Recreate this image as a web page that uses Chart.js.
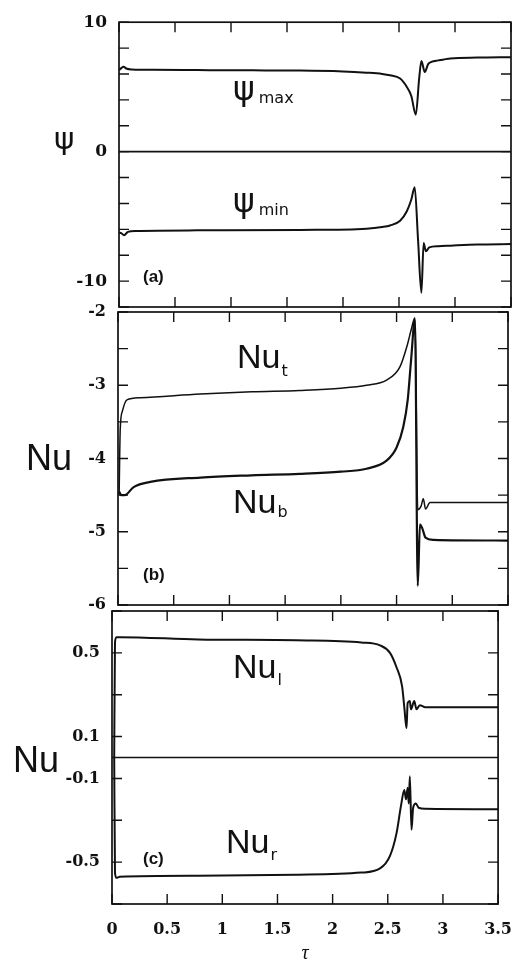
<!DOCTYPE html>
<html>
<head>
<meta charset="utf-8">
<title>psi and Nu against tau</title>
<script src="https://cdn.jsdelivr.net/npm/chart.js@4.4.1/dist/chart.umd.min.js"></script>
<style>
  body { margin: 0; background: #fff; }
  #wrap { position: relative; width: 528px; height: 962px; }
  #wrap canvas { position: absolute; left: 0; top: 0; }
</style>
</head>
<body>
<div id="wrap">
  <canvas id="panel-a" width="528" height="962"></canvas>
  <canvas id="panel-b" width="528" height="962"></canvas>
  <canvas id="panel-c" width="528" height="962"></canvas>
</div>
<script>
// shared time axis
const tauTicks = [0, 0.5, 1, 1.5, 2, 2.5, 3, 3.5];

// (a) stream function extremes
const psiTicks = [-12, -10, -8, -6, -4, -2, 0, 2, 4, 6, 8, 10];
const psiLabels = [-10, 0, 10];
const psiMaxTau = [0, 0.02, 0.04, 0.07, 0.12, 0.3, 0.7, 1.2, 1.62, 2.0, 2.21, 2.35, 2.42, 2.51, 2.57, 2.61, 2.65, 2.68, 2.70, 2.73, 2.76, 2.79, 2.85, 2.96, 3.2, 3.5];
const psiMax = [6.3, 6.45, 6.55, 6.4, 6.35, 6.32, 6.3, 6.28, 6.27, 6.2, 6.1, 6.0, 5.9, 5.65, 5.0, 4.3, 2.86, 5.65, 7.0, 6.15, 6.76, 6.94, 7.05, 7.2, 7.27, 7.3];
const psiMinTau = [0, 0.02, 0.045, 0.08, 0.15, 0.7, 1.62, 2.21, 2.35, 2.42, 2.51, 2.57, 2.61, 2.64, 2.67, 2.70, 2.72, 2.74, 2.77, 2.85, 2.96, 3.2, 3.5];
const psiMin = [-6.25, -6.3, -6.45, -6.2, -6.12, -6.08, -6.05, -5.95, -5.82, -5.7, -5.33, -4.6, -3.7, -2.74, -6.8, -10.9, -7.06, -7.7, -7.4, -7.3, -7.26, -7.18, -7.13];

// (b) top and bottom Nusselt numbers
const nuTBTicks = [-6, -5.5, -5, -4.5, -4, -3.5, -3, -2.5, -2];
const nuTBLabels = [-6, -5, -4, -3, -2];
const nuTopTau = [0.01, 0.02, 0.04, 0.08, 0.2, 0.74, 1.2, 1.63, 2.0, 2.23, 2.41, 2.53, 2.6, 2.63, 2.665, 2.69, 2.72, 2.74, 2.76, 2.8, 3.0, 3.5];
const nuTop = [-4.5, -3.6, -3.35, -3.2, -3.17, -3.12, -3.09, -3.07, -3.04, -3.0, -2.93, -2.75, -2.43, -2.25, -2.08, -4.7, -4.65, -4.55, -4.69, -4.6, -4.6, -4.6];
const nuBotTau = [0.01, 0.03, 0.06, 0.14, 0.29, 0.74, 1.2, 1.63, 2.0, 2.23, 2.41, 2.5, 2.56, 2.6, 2.63, 2.665, 2.69, 2.71, 2.73, 2.76, 2.83, 3.5];
const nuBot = [-4.45, -4.5, -4.5, -4.39, -4.32, -4.26, -4.23, -4.21, -4.18, -4.14, -4.03, -3.85, -3.57, -3.2, -2.66, -2.1, -5.74, -4.9, -4.95, -5.08, -5.11, -5.12];

// (c) left and right Nusselt numbers
const nuLRTicks = [-0.7, -0.5, -0.3, -0.1, 0.1, 0.3, 0.5, 0.7];
const nuLRLabels = [-0.5, -0.1, 0.1, 0.5];
const nuLeftTau = [0.02, 0.027, 0.04, 0.07, 0.78, 1.67, 2.26, 2.43, 2.52, 2.58, 2.63, 2.65, 2.67, 2.68, 2.70, 2.71, 2.74, 2.76, 2.79, 2.84, 3.5];
const nuLeft = [0.0, 0.55, 0.575, 0.575, 0.564, 0.56, 0.55, 0.536, 0.50, 0.43, 0.34, 0.24, 0.14, 0.26, 0.27, 0.23, 0.27, 0.23, 0.25, 0.24, 0.24];
const nuRightTau = [0.02, 0.027, 0.04, 0.07, 0.78, 1.67, 2.26, 2.43, 2.52, 2.58, 2.62, 2.65, 2.665, 2.68, 2.69, 2.70, 2.715, 2.73, 2.755, 2.78, 2.84, 3.5];
const nuRight = [0, -0.55, -0.575, -0.57, -0.565, -0.56, -0.55, -0.53, -0.47, -0.36, -0.23, -0.155, -0.2, -0.145, -0.22, -0.09, -0.345, -0.24, -0.22, -0.24, -0.245, -0.247];

const ink = '#111';
const pts = (xs, ys) => xs.map((x, i) => ({ x: x, y: ys[i] }));

// box, inward ticks on all four sides, zero line and the text labels
const framePlugin = {
    id: 'frame',
    afterDatasetsDraw(chart, args, opts) {
        const { ctx, chartArea: a, scales: { x, y } } = chart;
        ctx.save();
        ctx.strokeStyle = ink;
        ctx.lineWidth = 1.7;
        ctx.strokeRect(a.left, a.top, a.width, a.height);
        ctx.lineWidth = 1.4;
        ctx.beginPath();
        x.ticks.forEach(t => {
            const px = x.getPixelForValue(t.value);
            ctx.moveTo(px, a.top); ctx.lineTo(px, a.top + 10);
            ctx.moveTo(px, a.bottom); ctx.lineTo(px, a.bottom - 10);
        });
        y.ticks.forEach(t => {
            const py = y.getPixelForValue(t.value);
            ctx.moveTo(a.left, py); ctx.lineTo(a.left + 10, py);
            ctx.moveTo(a.right, py); ctx.lineTo(a.right - 10, py);
        });
        ctx.stroke();
        if (opts.zero) {
            const py = y.getPixelForValue(0);
            ctx.lineWidth = 1.7;
            ctx.beginPath();
            ctx.moveTo(a.left, py); ctx.lineTo(a.right, py);
            ctx.stroke();
        }
        ctx.fillStyle = ink;
        ctx.textBaseline = 'alphabetic';
        (opts.notes || []).forEach(n => {
            ctx.font = n.font;
            ctx.fillText(n.text, n.x, n.y);
            if (n.sub) {
                const w = ctx.measureText(n.text).width;
                ctx.font = '16px "DejaVu Sans"';
                ctx.fillText(n.sub, n.x + w + (n.gap || 1), n.y + n.drop);
            }
        });
        ctx.restore();
    }
};

function yAxis(min, max, ticks, labels, width, size) {
    return {
        type: 'linear', min: min, max: max,
        afterBuildTicks: s => { s.ticks = ticks.map(v => ({ value: v })); },
        afterFit: s => { s.width = width; },
        grid: { display: false, drawTicks: false },
        border: { display: false },
        ticks: {
            autoSkip: false, padding: 12, color: ink,
            font: { family: 'DejaVu Serif', weight: 'bold', size: size },
            callback: v => labels.includes(v) ? String(v) : ''
        }
    };
}

function xAxis(show) {
    return {
        type: 'linear', min: 0, max: 3.5, display: show,
        afterBuildTicks: s => { s.ticks = tauTicks.map(v => ({ value: v })); },
        afterFit: s => { if (show) s.height = 58; },
        grid: { display: false, drawTicks: false },
        border: { display: false },
        ticks: {
            autoSkip: false, maxRotation: 0, padding: 16, color: ink,
            font: { family: 'DejaVu Serif', weight: 'bold', size: 16 },
            callback: v => String(v)
        },
        title: {
            display: show, text: 'τ', color: ink,
            font: { family: 'Liberation Serif', style: 'italic', size: 20, lineHeight: 1 },
            padding: { top: 0, bottom: -2 }
        }
    };
}

function line(data, width) {
    return {
        data: data, borderColor: ink, borderWidth: width,
        pointRadius: 0, cubicInterpolationMode: 'monotone', fill: false
    };
}

function makePanel(id, cfg) {
    return new Chart(document.getElementById(id), {
        type: 'line',
        data: { datasets: cfg.datasets },
        options: {
            responsive: false,
            animation: false,
            parsing: false,
            layout: { padding: cfg.padding },
            scales: { x: xAxis(cfg.showX), y: cfg.y },
            plugins: {
                legend: { display: false },
                tooltip: { enabled: false },
                frame: { zero: cfg.zero, notes: cfg.notes }
            }
        },
        plugins: [framePlugin]
    });
}

const bigSans = '34px "Liberation Sans"';
const axisSans = '36px "Liberation Sans"';
const psiFont = '33px "DejaVu Sans"';
const tagFont = 'bold 17px "Liberation Sans"';

makePanel('panel-a', {
    padding: { top: 13, right: 17, bottom: 655, left: 0 },
    y: yAxis(-12, 10, psiTicks, psiLabels, 119, 17),
    showX: false,
    zero: true,
    datasets: [line(pts(psiMaxTau, psiMax), 2), line(pts(psiMinTau, psiMin), 2)],
    notes: [
        { text: 'ψ', font: '31px "DejaVu Sans"', x: 54, y: 149 },
        { text: 'ψ', font: psiFont, x: 233, y: 100, sub: 'max', drop: 3, gap: 4 },
        { text: 'ψ', font: psiFont, x: 233, y: 212, sub: 'min', drop: 3, gap: 4 },
        { text: '(a)', font: tagFont, x: 143, y: 282 }
    ]
});

makePanel('panel-b', {
    padding: { top: 312, right: 20, bottom: 357, left: 0 },
    y: yAxis(-6, -2, nuTBTicks, nuTBLabels, 118, 16),
    showX: false,
    zero: false,
    datasets: [line(pts(nuTopTau, nuTop), 1.5), line(pts(nuBotTau, nuBot), 2.2)],
    notes: [
        { text: 'Nu', font: axisSans, x: 26, y: 470 },
        { text: 'Nu', font: bigSans, x: 237, y: 368, sub: 't', drop: 8 },
        { text: 'Nu', font: bigSans, x: 233, y: 513, sub: 'b', drop: 4 },
        { text: '(b)', font: tagFont, x: 143, y: 580 }
    ]
});

makePanel('panel-c', {
    padding: { top: 611, right: 21, bottom: 0, left: 0 },
    y: yAxis(-0.7, 0.7, nuLRTicks, nuLRLabels, 112, 16),
    showX: true,
    zero: true,
    datasets: [line(pts(nuLeftTau, nuLeft), 2), line(pts(nuRightTau, nuRight), 2)],
    notes: [
        { text: 'Nu', font: axisSans, x: 13, y: 772 },
        { text: 'Nu', font: bigSans, x: 233, y: 678, sub: 'l', drop: 7 },
        { text: 'Nu', font: bigSans, x: 226, y: 853, sub: 'r', drop: 7 },
        { text: '(c)', font: tagFont, x: 143, y: 864 }
    ]
});
</script>
</body>
</html>
